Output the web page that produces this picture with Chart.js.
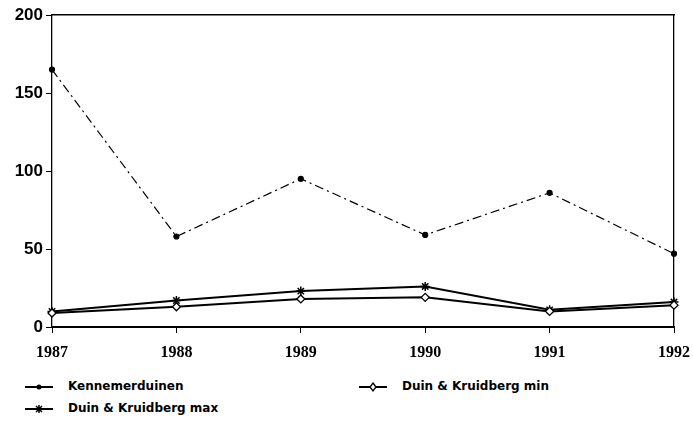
<!DOCTYPE html>
<html>
<head>
<meta charset="utf-8">
<script src="https://cdn.jsdelivr.net/npm/chart.js@4"></script>
<style>
body { margin: 0; background: #fff; }
#wrap { position: relative; width: 693px; height: 431px; }
#c { position: absolute; left: 0; top: 0; }
.lg { position: absolute; font-family: "DejaVu Sans", sans-serif; font-weight: bold; font-size: 12px; color: #000; white-space: nowrap; }
.lg canvas { vertical-align: middle; margin-right: 14px; }
</style>
</head>
<body>
<div id="wrap">
  <canvas id="c" width="693" height="370"></canvas>
  <div class="lg" style="left:24px; top:379px;"><canvas id="l0" width="30" height="14"></canvas>Kennemerduinen</div>
  <div class="lg" style="left:358px; top:379px;"><canvas id="l1" width="30" height="14"></canvas>Duin &amp; Kruidberg min</div>
  <div class="lg" style="left:24px; top:401px;"><canvas id="l2" width="30" height="14"></canvas>Duin &amp; Kruidberg max</div>
</div>
<script>
var years = ['1987', '1988', '1989', '1990', '1991', '1992'];
var kennemer = [165, 58, 95, 59, 86, 47];
var duinMin = [9, 13, 18, 19, 10, 14];
var duinMax = [10, 17, 23, 26, 11, 16];
var yTicks = [0, 50, 100, 150, 200];

// legend samples
function sample(id, style) {
    var ctx = document.getElementById(id).getContext('2d');
    ctx.strokeStyle = '#000';
    ctx.fillStyle = '#000';
    ctx.lineWidth = 2;
    ctx.beginPath();
    ctx.moveTo(1, 7); ctx.lineTo(29, 7);
    ctx.stroke();
    if (style == 'dot') {
        ctx.beginPath(); ctx.arc(15, 7, 2.5, 0, Math.PI * 2); ctx.fill();
    } else if (style == 'diamond') {
        ctx.lineWidth = 1.3;
        ctx.fillStyle = '#fff';
        ctx.beginPath();
        ctx.moveTo(15, 3); ctx.lineTo(18, 7); ctx.lineTo(15, 11); ctx.lineTo(12, 7); ctx.closePath();
        ctx.fill(); ctx.stroke();
    } else {
        ctx.lineWidth = 1.5;
        ctx.beginPath();
        ctx.moveTo(12, 4); ctx.lineTo(18, 10);
        ctx.moveTo(18, 4); ctx.lineTo(12, 10);
        ctx.moveTo(15, 3); ctx.lineTo(15, 11);
        ctx.stroke();
    }
}
sample('l0', 'dot');
sample('l1', 'diamond');
sample('l2', 'star');

var tickFont = { family: 'Liberation Sans', weight: 'bold', size: 17 };

var chart = new Chart(document.getElementById('c'), {
    type: 'line',
    data: {
        labels: years,
        datasets: [{
            label: 'Kennemerduinen',
            data: kennemer,
            borderColor: '#000',
            backgroundColor: '#000',
            borderWidth: 1.2,
            borderDash: [9, 4, 2, 4],
            pointStyle: 'circle',
            pointRadius: 2.5,
            tension: 0
        }, {
            label: 'Duin & Kruidberg min',
            data: duinMin,
            borderColor: '#000',
            backgroundColor: '#fff',
            borderWidth: 2,
            pointStyle: 'rectRot',
            pointRadius: 4,
            pointBorderWidth: 1.3,
            tension: 0
        }, {
            label: 'Duin & Kruidberg max',
            data: duinMax,
            borderColor: '#000',
            backgroundColor: '#000',
            borderWidth: 2,
            pointStyle: 'star',
            pointRadius: 4.5,
            pointBorderWidth: 1.5,
            tension: 0
        }]
    },
    options: {
        responsive: false,
        animation: false,
        layout: { padding: { top: 15, right: 0, left: 0, bottom: 0 } },
        plugins: { legend: { display: false }, tooltip: { enabled: false } },
        scales: {
            x: {
                offset: false,
                grid: { drawOnChartArea: false, color: '#000', tickLength: 6 },
                border: { color: '#000', width: 2 },
                ticks: { color: '#000', font: { family: 'Liberation Serif', weight: 'bold', size: 16 }, maxRotation: 0, padding: 10 },
                afterFit: function(s) { s.height = 43; s.paddingRight = 19; }
            },
            xTop: {
                position: 'top',
                grid: { display: false },
                border: { color: '#000', width: 1.5 },
                ticks: { display: false },
                afterFit: function(s) { s.height = 0; }
            },
            y: {
                min: 0,
                max: 200,
                afterBuildTicks: function(s) { s.ticks = yTicks.map(function(v) { return { value: v }; }); },
                grid: { drawOnChartArea: false, color: '#000', tickLength: 6 },
                border: { color: '#000', width: 1.3, dash: [5, 3] },
                ticks: { color: '#000', font: tickFont, padding: 3 },
                afterFit: function(s) { s.width = 52; }
            },
            yRight: {
                position: 'right',
                min: 0,
                max: 200,
                grid: { display: false },
                border: { color: '#000', width: 1.3, dash: [5, 3] },
                ticks: { display: false },
                afterFit: function(s) { s.width = 0; }
            }
        }
    }
});
</script>
</body>
</html>
